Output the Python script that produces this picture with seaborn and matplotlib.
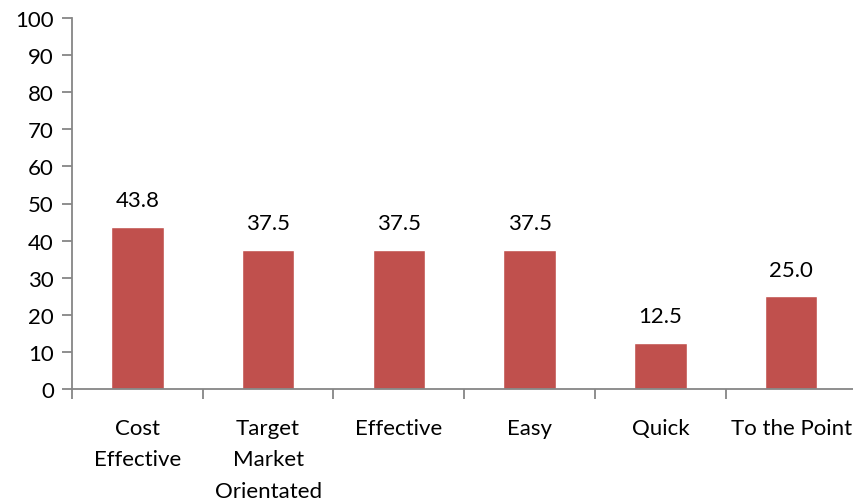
import matplotlib
matplotlib.use("Agg")
import matplotlib.pyplot as plt
import seaborn as sns
import pandas as pd
import numpy as np

categories = ["Cost\nEffective", "Target\nMarket\nOrientated", "Effective", "Easy", "Quick", "To the Point"]
values = [43.8, 37.5, 37.5, 37.5, 12.5, 25.0]
y_ticks = list(range(0, 101, 10))

sns.set_theme(style="white")
plt.rcParams["font.family"] = ["Lato", "DejaVu Sans"]

W, H = 854, 502
fig = plt.figure(figsize=(W / 100, H / 100), dpi=100)
ax = fig.add_axes([72 / W, 1 - 390 / H, (856.5 - 72) / W, (390 - 19) / H])

df = pd.DataFrame({"category": categories, "value": values})
sns.barplot(data=df, x="category", y="value", color="#C0504D", saturation=1,
            width=0.4, ax=ax)

axis_color = "#868686"
fs = 16
ax.set_xlim(-0.5, len(categories) - 0.5)
ax.set_ylim(0, 100)
ax.set_yticks(y_ticks)
ax.set_yticklabels([str(t) for t in y_ticks], fontsize=fs, color="black")
ax.set_xlabel("")
ax.set_ylabel("")

for side in ["top", "right"]:
    ax.spines[side].set_visible(False)
for side in ["left", "bottom"]:
    ax.spines[side].set_color(axis_color)
    ax.spines[side].set_linewidth(1.3)
    ax.spines[side].set_clip_on(False)

ax.tick_params(axis="y", direction="out", length=7, width=1.3, color=axis_color,
               pad=6, left=True)

# category boundary ticks below the axis, labels centered under bars
ax.set_xticks(np.arange(len(categories) + 1) - 0.5, minor=True)
ax.set_xticks(np.arange(len(categories)))
ax.set_xticklabels(categories, fontsize=fs, color="black", linespacing=1.7)
ax.tick_params(axis="x", which="major", length=0, pad=21)
ax.tick_params(axis="x", which="minor", direction="out", length=7, width=1.3,
               color=axis_color, bottom=True)

for container in ax.containers:
    ax.bar_label(container, fmt="%.1f", padding=12, fontsize=fs, color="black")

fig.savefig("out.png", dpi=100)
